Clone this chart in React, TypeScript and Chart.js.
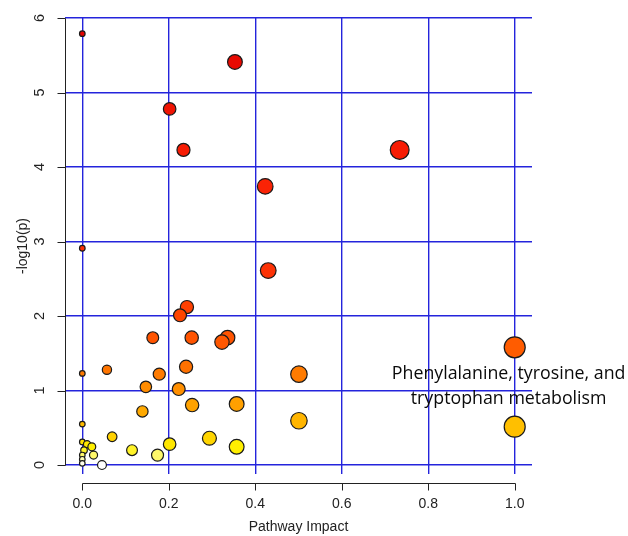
import { useEffect, useRef } from 'react';
import { Chart, registerables } from 'chart.js';

Chart.register(...registerables);

// Pathway impact (x) and -log10(p) (y), one entry per pathway
const pathwayImpact = [
  0.0, 0.353, 0.202, 0.234, 0.734, 0.423, 0.0, 0.43, 0.242, 0.226,
  0.163, 0.253, 0.336, 0.323, 1.0, 0.24, 0.057, 0.0, 0.501, 0.178,
  0.147, 0.223, 0.357, 0.254, 0.139, 0.501, 0.0, 1.0, 0.069, 0.294,
  0.0, 0.011, 0.202, 0.022, 0.357, 0.004, 0.115, 0.174, 0.026, 0.0,
  0.0, 0.0, 0.0455,
];
const negLog10P = [
  5.79, 5.41, 4.78, 4.23, 4.23, 3.74, 2.91, 2.61, 2.12, 2.01,
  1.71, 1.71, 1.71, 1.65, 1.58, 1.32, 1.28, 1.23, 1.22, 1.22,
  1.05, 1.02, 0.82, 0.805, 0.72, 0.595, 0.55, 0.515, 0.38, 0.36,
  0.31, 0.28, 0.28, 0.245, 0.245, 0.2, 0.2, 0.134, 0.134, 0.134,
  0.077, 0.023, 0.0,
];
const xTickValues = [0, 0.2, 0.4, 0.6, 0.8, 1.0];
const yTickValues = [0, 1, 2, 3, 4, 5, 6];
const xAxisTitle = 'Pathway Impact';
const yAxisTitle = '-log10(p)';
const highlightLabel = ['Phenylalanine, tyrosine, and', 'tryptophan metabolism'];

// heat-colour style: colour by -log10(p)
const colorStops: [number, [number, number, number]][] = [
  [0.0, [255, 255, 255]],
  [0.05, [255, 255, 215]],
  [0.13, [255, 248, 110]],
  [0.24, [255, 240, 0]],
  [0.3, [255, 226, 0]],
  [0.4, [255, 205, 0]],
  [0.6, [255, 180, 0]],
  [0.8, [255, 162, 0]],
  [1.0, [255, 145, 0]],
  [1.3, [255, 115, 0]],
  [1.6, [255, 90, 0]],
  [2.0, [255, 68, 0]],
  [2.6, [252, 50, 5]],
  [4.0, [250, 32, 5]],
  [6.0, [225, 0, 0]],
];
function heatColor(v: number): string {
  if (v <= colorStops[0][0]) return `rgb(${colorStops[0][1].join(',')})`;
  for (let i = 1; i < colorStops.length; i++) {
    const [v1, c1] = colorStops[i];
    const [v0, c0] = colorStops[i - 1];
    if (v <= v1) {
      const t = (v - v0) / (v1 - v0);
      const c = c0.map((a, k) => Math.round(a + (c1[k] - a) * t));
      return `rgb(${c.join(',')})`;
    }
  }
  return `rgb(${colorStops[colorStops.length - 1][1].join(',')})`;
}
function impactRadius(x: number): number {
  return 2.8 + 7.7 * Math.sqrt(Math.max(0, x));
}

const FONT = '"Liberation Sans", Arial, sans-serif';

const rAxesPlugin = {
  id: 'rAxes',
  afterDraw(chart: any) {
    const { ctx, chartArea, scales } = chart;
    const xs = scales.x;
    const ys = scales.y;
    ctx.save();
    ctx.strokeStyle = '#222';
    ctx.lineWidth = 1;
    ctx.beginPath();
    const yx = Math.round(chartArea.left) + 0.5;
    ctx.moveTo(yx, Math.round(ys.getPixelForValue(yTickValues[0])) + 0.5);
    ctx.lineTo(yx, Math.round(ys.getPixelForValue(yTickValues[yTickValues.length - 1])) + 0.5);
    yTickValues.forEach((v) => {
      const p = Math.round(ys.getPixelForValue(v)) + 0.5;
      ctx.moveTo(yx, p);
      ctx.lineTo(yx - 8, p);
    });
    const xy = Math.round(chartArea.bottom + 9) + 0.5;
    ctx.moveTo(Math.round(xs.getPixelForValue(xTickValues[0])) + 0.5, xy);
    ctx.lineTo(Math.round(xs.getPixelForValue(xTickValues[xTickValues.length - 1])) + 0.5, xy);
    xTickValues.forEach((v) => {
      const p = Math.round(xs.getPixelForValue(v)) + 0.5;
      ctx.moveTo(p, xy);
      ctx.lineTo(p, xy + 7);
    });
    ctx.stroke();

    // annotation for the highlighted pathway
    ctx.fillStyle = '#0a0a0a';
    ctx.font = '17.8px "Open Sans", "Noto Sans", sans-serif';
    ctx.textAlign = 'center';
    ctx.textBaseline = 'middle';
    const ax = xs.getPixelForValue(0.986);
    ctx.fillText(highlightLabel[0], ax, ys.getPixelForValue(1.22));
    ctx.fillText(highlightLabel[1], ax, ys.getPixelForValue(0.886));
    ctx.restore();
  },
};

export default function App() {
  const canvasRef = useRef<HTMLCanvasElement | null>(null);

  useEffect(() => {
    const canvas = canvasRef.current;
    if (!canvas) return;
    const points = pathwayImpact.map((x, i) => ({ x, y: negLog10P[i] }));
    const chart = new Chart(canvas, {
      type: 'scatter',
      data: {
        datasets: [
          {
            data: points,
            backgroundColor: (c: any) => heatColor(c.raw ? c.raw.y : 0),
            borderColor: '#1a1a1a',
            borderWidth: 1.2,
            pointRadius: (c: any) => impactRadius(c.raw ? c.raw.x : 0),
            pointHoverRadius: (c: any) => impactRadius(c.raw ? c.raw.x : 0),
            clip: false as any,
          },
        ],
      },
      options: {
        animation: false,
        responsive: false,
        maintainAspectRatio: false,
        layout: { padding: { top: 18, right: 96, left: 0, bottom: 0 } },
        plugins: { legend: { display: false }, tooltip: { enabled: false } },
        scales: {
          x: {
            type: 'linear',
            min: -0.04,
            max: 1.04,
            afterBuildTicks: (s: any) => {
              s.ticks = xTickValues.map((value) => ({ value }));
            },
            afterFit: (s: any) => {
              s.height = 62;
              s.paddingLeft = 0;
              s.paddingRight = 0;
            },
            grid: { color: '#2424dc', lineWidth: 1.4, drawTicks: false },
            border: { display: false },
            ticks: {
              padding: 22,
              color: '#222',
              font: { family: FONT, size: 14 },
              callback: (v: any) => Number(v).toFixed(1),
            },
            title: {
              display: true,
              text: xAxisTitle,
              color: '#222',
              font: { family: FONT, size: 14 },
              padding: { top: 0, bottom: 0 },
            },
          },
          y: {
            type: 'linear',
            min: -0.12,
            max: 6,
            afterBuildTicks: (s: any) => {
              s.ticks = yTickValues.map((value) => ({ value }));
            },
            afterFit: (s: any) => {
              s.width = 65;
              s.paddingTop = 0;
              s.paddingBottom = 0;
            },
            grid: { color: '#2424dc', lineWidth: 1.4, drawTicks: false },
            border: { display: false },
            ticks: {
              padding: 21,
              minRotation: 90,
              maxRotation: 90,
              crossAlign: 'center',
              color: '#222',
              font: { family: FONT, size: 14.5 },
              callback: (v: any) => String(v),
            },
            title: {
              display: true,
              text: yAxisTitle,
              color: '#222',
              font: { family: FONT, size: 14 },
              padding: { top: 15, bottom: 0 },
            },
          },
        },
      },
      plugins: [rAxesPlugin],
    });
    return () => chart.destroy();
  }, []);

  return (
    <div style={{ position: 'absolute', left: 0, top: 0, width: 628, height: 536, background: '#fff' }}>
      <canvas ref={canvasRef} width={628} height={536} />
    </div>
  );
}
